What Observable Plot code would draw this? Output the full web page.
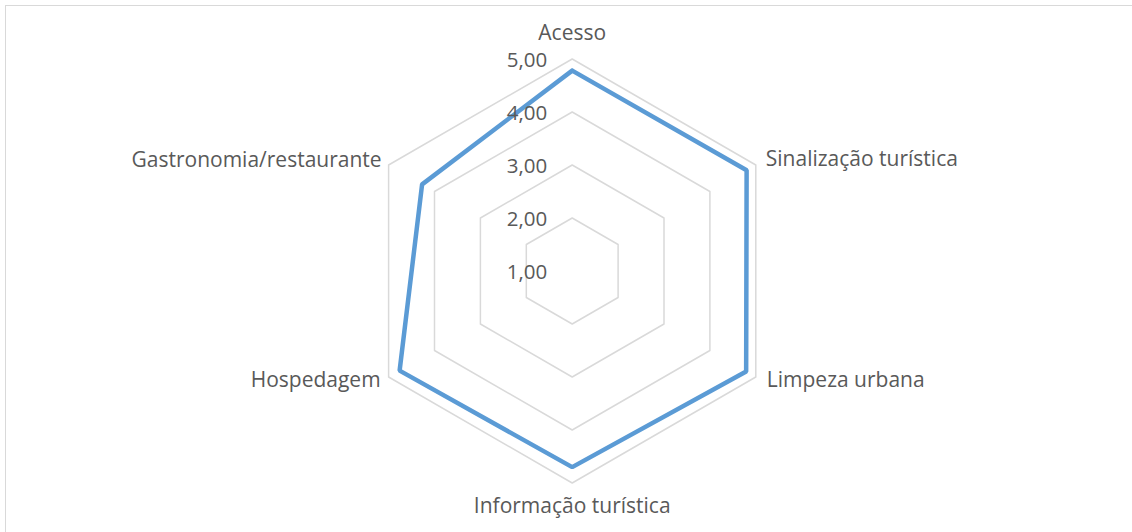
<!DOCTYPE html>
<html>
<head>
<meta charset="utf-8">
<script src="https://cdn.jsdelivr.net/npm/d3@7"></script>
<script src="https://cdn.jsdelivr.net/npm/@observablehq/plot@0.6"></script>
<style>
  html, body { margin: 0; padding: 0; background: #ffffff; }
  #chart { position: relative; width: 1132px; height: 532px; overflow: hidden; }
  #frame { position: absolute; left: 5px; top: 5px; width: 1140px; height: 540px; border: 1.5px solid #d9d9d9; box-sizing: border-box; pointer-events: none; }
  svg { font-family: "Open Sans", sans-serif; }
</style>
</head>
<body>
<div id="chart"><div id="frame"></div></div>
<script>
// ---- data ----
const categories = ["Acesso", "Sinalização turística", "Limpeza urbana", "Informação turística", "Hospedagem", "Gastronomia/restaurante"];
const values = [4.78, 4.80, 4.79, 4.70, 4.76, 4.27];
const tickValues = [1, 2, 3, 4, 5];
const tickLabels = ["1,00", "2,00", "3,00", "4,00", "5,00"];
const axisMin = 1;

// ---- layout ----
const W = 1132, H = 532;
const cx = 571.7, cy = 270.5, unitPx = 53;

const n = categories.length;
const angle = i => (i / n) * 2 * Math.PI; // clockwise from top
const px = (v, i) => (v - axisMin) * Math.sin(angle(i));
const py = (v, i) => (v - axisMin) * Math.cos(angle(i));

// rings (grid)
const rings = [];
for (const t of tickValues.filter(t => t > axisMin)) {
  for (let i = 0; i <= n; i++) rings.push({ring: t, x: px(t, i % n), y: py(t, i % n)});
}
// data polygon
const series = [];
for (let i = 0; i <= n; i++) series.push({x: px(values[i % n], i % n), y: py(values[i % n], i % n)});

// category labels at outer ring
const outer = tickValues[tickValues.length - 1];
const labelOffsets = [
  {anchor: "middle", dx: 0, dy: -26},
  {anchor: "start", dx: 10, dy: -6},
  {anchor: "start", dx: 11, dy: 3},
  {anchor: "middle", dx: 0, dy: 23},
  {anchor: "end", dx: -8, dy: 3},
  {anchor: "end", dx: -7, dy: -5}
];
const labels = categories.map((c, i) => ({label: c, x: px(outer, i), y: py(outer, i), ...labelOffsets[i]}));
const ticks = tickValues.map((t, k) => ({label: tickLabels[k], x: 0, y: t - axisMin}));

const textMarks = labels.map(l => Plot.text([l], {
  x: "x", y: "y", text: "label", textAnchor: l.anchor, dx: l.dx, dy: l.dy,
  fill: "#595959", fontSize: 21, fontFamily: "Open Sans"
}));

const chart = Plot.plot({
  width: W, height: H,
  margin: 0,
  x: {domain: [-cx / unitPx, (W - cx) / unitPx], range: [0, W], axis: null},
  y: {domain: [-(H - cy) / unitPx, cy / unitPx], range: [H, 0], axis: null},
  style: {background: "transparent", fontFamily: "Open Sans"},
  marks: [
    Plot.line(rings, {x: "x", y: "y", z: "ring", stroke: "#d9d9d9", strokeWidth: 1.5}),
    Plot.line(series, {x: "x", y: "y", stroke: "#5b9bd5", strokeWidth: 4.5, strokeLinejoin: "miter"}),
    Plot.text(ticks, {x: "x", y: "y", text: "label", textAnchor: "end", dx: -25, dy: 1, fill: "#595959", fontSize: 20.5, fontFamily: "Open Sans"}),
    ...textMarks
  ]
});
document.getElementById("chart").prepend(chart);
chart.style.position = "absolute";
chart.style.left = "0";
chart.style.top = "0";
</script>
</body>
</html>
